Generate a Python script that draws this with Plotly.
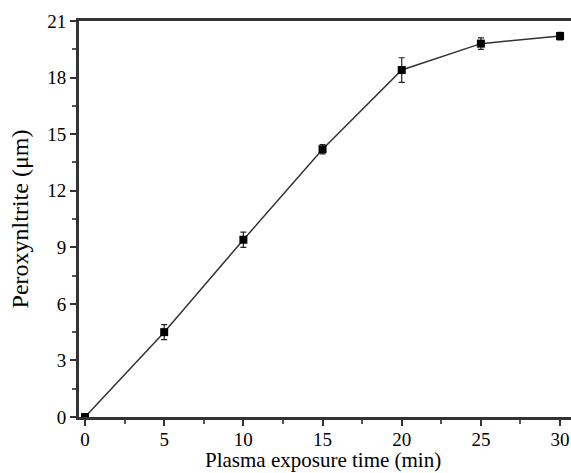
import plotly.graph_objects as go

time_min = [0, 5, 10, 15, 20, 25, 30]
peroxynitrite = [0.0, 4.5, 9.4, 14.2, 18.4, 19.8, 20.2]
errors = [0.0, 0.4, 0.4, 0.25, 0.65, 0.3, 0.2]
x_ticks = [0, 5, 10, 15, 20, 25, 30]
y_ticks = [0, 3, 6, 9, 12, 15, 18, 21]
x_title = "Plasma exposure time (min)"
y_title = "Peroxynltrite (μm)"

font = "Liberation Serif, Times New Roman, serif"

fig = go.Figure(go.Scatter(
    x=time_min, y=peroxynitrite,
    mode="lines+markers",
    line=dict(color="#333333", width=1.5),
    marker=dict(symbol="square", size=8, color="black"),
    error_y=dict(type="data", array=errors, color="#222222", thickness=1.2, width=3),
    showlegend=False,
))

fig.update_layout(
    width=571, height=473,
    margin=dict(l=79, r=0, t=21, b=56),
    paper_bgcolor="white", plot_bgcolor="white",
    font=dict(family=font, size=19, color="black"),
    xaxis=dict(
        range=[-0.38, 30.69], tickvals=x_ticks, showgrid=False, zeroline=False,
        automargin=False, ticklabelstandoff=-3,
        showline=True, linecolor="#333333", linewidth=3, mirror=True,
        ticks="outside", ticklen=6, tickwidth=2, tickcolor="#333333",
        minor=dict(dtick=2.5, tick0=0, ticks="outside", ticklen=4, tickwidth=2, tickcolor="#555555"),
    ),
    yaxis=dict(
        range=[0, 21], tickvals=y_ticks, showgrid=False, zeroline=False,
        automargin=False,
        showline=True, linecolor="#333333", linewidth=3,
        ticks="outside", ticklen=6, tickwidth=2, tickcolor="#333333",
        minor=dict(dtick=1.5, tick0=0, ticks="outside", ticklen=4, tickwidth=2, tickcolor="#555555"),
        title=dict(text=y_title, standoff=12, font=dict(size=24)),
    ),
    annotations=[dict(
        text=x_title, xref="paper", yref="paper", x=0.5, y=0,
        xanchor="center", yanchor="bottom", yshift=-56, xshift=-2,
        borderpad=0, showarrow=False, font=dict(size=21),
    )],
)

fig.write_html(
    "out.html",
    config={"displayModeBar": False},
    post_script="document.body.style.margin='0px';document.body.style.overflow='hidden';",
)
